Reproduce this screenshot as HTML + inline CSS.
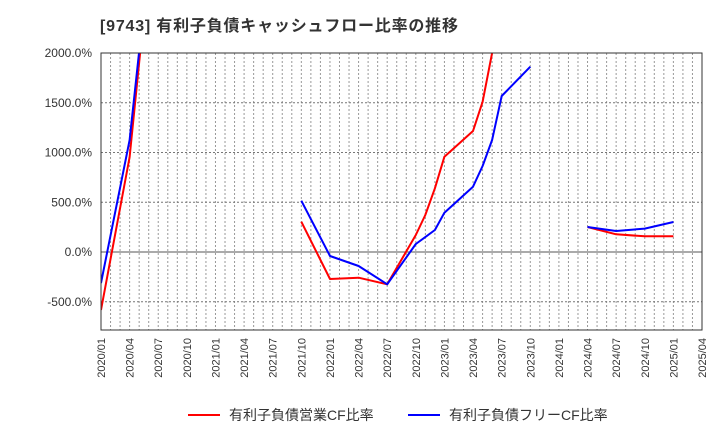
<!DOCTYPE html>
<html><head><meta charset="utf-8"><style>
body{margin:0;background:#fff;font-family:"Liberation Sans","Noto Sans CJK JP",sans-serif;}
</style></head><body>
<svg width="720" height="440" xmlns="http://www.w3.org/2000/svg" style="font-family:'Liberation Sans','Noto Sans CJK JP',sans-serif">
<text x="100" y="31" font-size="16" font-weight="bold" fill="#333" textLength="358">[9743]  有利子負債キャッシュフロー比率の推移</text>
<defs><clipPath id="pc"><rect x="101" y="53" width="601" height="277"/></clipPath></defs>
<g id="grid"></g>
<g id="series" clip-path="url(#pc)"></g>
<rect x="101" y="53" width="601" height="277" fill="none" stroke="#333" stroke-width="1"/>
<g id="yticks"></g>
<g id="xticks"></g>
<g>
<line x1="188" y1="415" x2="220" y2="415" stroke="#f00" stroke-width="2"/>
<text x="229" y="420" font-size="14" fill="#333">有利子負債営業CF比率</text>
<line x1="408" y1="415" x2="440" y2="415" stroke="#00f" stroke-width="2"/>
<text x="449" y="420" font-size="14" fill="#333">有利子負債フリーCF比率</text>
</g>
</svg>
<script>
const months=[0,3,6,9,21,24,27,30,33,34,35,36,39,40,41,42,45,48,51,54,57,60];
const redValues=[-583,953,3800,null,305,-271,-258,-325,171,372,640,958,1216,1510,2000,2800,null,null,251,178,158,158];
const blueValues=[-313,1125,3790,null,516,-40,-141,-325,80,150,221,395,656,864,1126,1568,1862,null,251,211,235,302];
const yTicks=[-500,0,500,1000,1500,2000];
const xTickLabels=["2020/01","2020/04","2020/07","2020/10","2021/01","2021/04","2021/07","2021/10","2022/01","2022/04","2022/07","2022/10","2023/01","2023/04","2023/07","2023/10","2024/01","2024/04","2024/07","2024/10","2025/01","2025/04"];
const NS="http://www.w3.org/2000/svg";
const X0=101,X1=702,Y0=53,Y1=330;
function xs(m){return X0+m*(X1-X0)/63;}
function ys(v){return 252-v*0.0995;}
function mk(t,a,p){const e=document.createElementNS(NS,t);for(const k in a)e.setAttribute(k,a[k]);p.appendChild(e);return e;}
const grid=document.getElementById('grid'),yt=document.getElementById('yticks'),xt=document.getElementById('xticks'),sg=document.getElementById('series');
for(let m=1;m<63;m++){const l=mk('line',{x1:xs(m),x2:xs(m),y1:Y0,y2:Y1,stroke:'#999','stroke-dasharray':'2,2','stroke-width':1},grid);

}
yTicks.forEach(v=>{const y=ys(v);
const l=mk('line',{x1:X0,x2:X1,y1:y,y2:y,stroke:v===0?'#555':'#777','stroke-dasharray':v===0?'':'2,2','stroke-width':1},grid);


const t=mk('text',{x:92,y:y+4,'text-anchor':'end','font-size':12,fill:'#333'},yt);


t.textContent=v.toFixed(1)+'%';});
xTickLabels.forEach((s,i)=>{const x=xs(i*3);
const t=mk('text',{x:0,y:0,transform:`translate(${x+4},338) rotate(-90)`,'text-anchor':'end','font-size':11,fill:'#333'},xt);


t.textContent=s;});
function draw(vals,color,name){let d='',pen=false;
for(let i=0;i<months.length;i++){const v=vals[i];
if(v===null){pen=false;continue;}
d+=(pen?'L':'M')+xs(months[i]).toFixed(1)+' '+ys(v).toFixed(1)+' ';pen=true;}
const p=mk('path',{d:d,fill:'none',stroke:color,'stroke-width':2,'stroke-linejoin':'round'},sg);

}
draw(redValues,'#f00','operating-cf-ratio-line');
draw(blueValues,'#00f','free-cf-ratio-line');
</script>
</body></html>
